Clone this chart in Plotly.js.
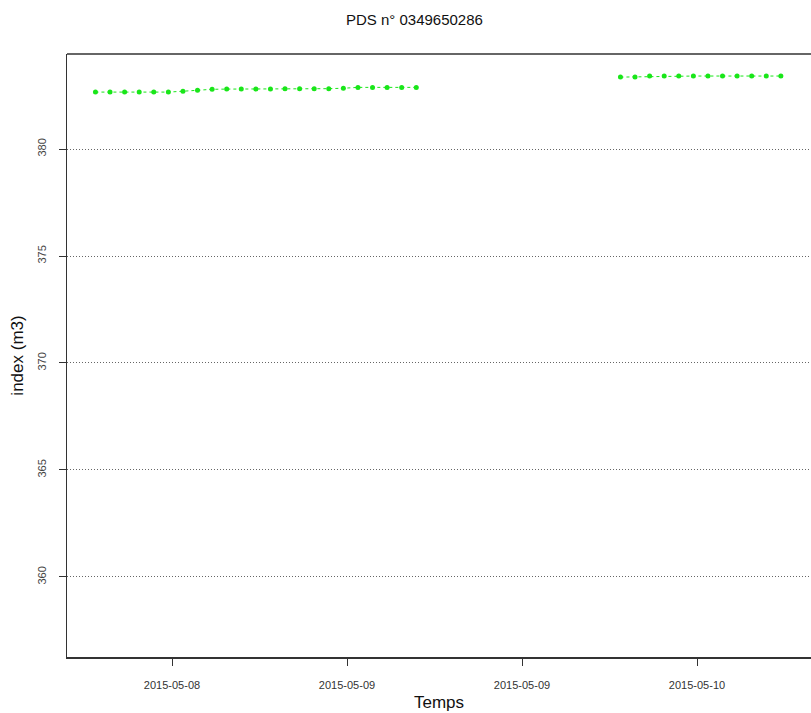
<!DOCTYPE html>
<html>
<head>
<meta charset="utf-8">
<script src="https://cdn.plot.ly/plotly-3.0.1.min.js"></script>
<style>html,body{margin:0;padding:0;background:#fff;}#chart{width:811px;height:713px;}</style>
</head>
<body>
<div id="chart"></div>
<script>
const chartTitle = "PDS n° 0349650286";
const xTitle = "Temps";
const yTitle = "index (m3)";

const times1 = [
  "2015-05-08 06:45","2015-05-08 07:45","2015-05-08 08:45","2015-05-08 09:45",
  "2015-05-08 10:45","2015-05-08 11:45","2015-05-08 12:45","2015-05-08 13:45",
  "2015-05-08 14:45","2015-05-08 15:45","2015-05-08 16:45","2015-05-08 17:45",
  "2015-05-08 18:45","2015-05-08 19:45","2015-05-08 20:45","2015-05-08 21:45",
  "2015-05-08 22:45","2015-05-08 23:45","2015-05-09 00:45","2015-05-09 01:45",
  "2015-05-09 02:45","2015-05-09 03:45","2015-05-09 04:45"
];
const index1 = [382.66,382.66,382.66,382.66,382.66,382.66,382.70,382.75,382.79,382.80,
  382.80,382.80,382.80,382.82,382.82,382.82,382.82,382.84,382.88,382.88,382.88,382.88,382.88];

const times2 = [
  "2015-05-09 18:45","2015-05-09 19:45","2015-05-09 20:45","2015-05-09 21:45",
  "2015-05-09 22:45","2015-05-09 23:45","2015-05-10 00:45","2015-05-10 01:45",
  "2015-05-10 02:45","2015-05-10 03:45","2015-05-10 04:45","2015-05-10 05:45"
];
const index2 = [383.36,383.37,383.41,383.41,383.41,383.41,383.41,383.41,383.41,383.41,383.41,383.41];

const tickVals = ["2015-05-08 12:00","2015-05-09 00:00","2015-05-09 12:00","2015-05-10 00:00"];
const tickText = ["2015-05-08","2015-05-09","2015-05-09","2015-05-10"];
const yTicks = [360,365,370,375,380];

const green = "#19e619";
const mk = {color: green, size: 5};
const ln = {color: green, width: 1, dash: "3px,3px"};

const traces = [
  {x: times1, y: index1, type: "scatter", mode: "lines+markers", marker: mk, line: ln, hoverinfo: "x+y"},
  {x: times2, y: index2, type: "scatter", mode: "lines+markers", marker: mk, line: ln, hoverinfo: "x+y"}
];

const fnt = "Liberation Sans, Arial, sans-serif";
const layout = {
  width: 811, height: 713,
  margin: {l: 67, r: 0, t: 54, b: 56},
  paper_bgcolor: "#fff", plot_bgcolor: "#fff",
  showlegend: false,
  font: {family: fnt, color: "#222"},
  title: {text: chartTitle, font: {family: fnt, size: 15, color: "#111"}, x: 0.511, xanchor: "center", y: 0.972, yanchor: "middle"},
  xaxis: {
    type: "date",
    range: ["2015-05-08 04:48", "2015-05-10 07:49"],
    tickmode: "array", tickvals: tickVals, ticktext: tickText,
    ticks: "outside", ticklen: 7, tickcolor: "#333", tickwidth: 1,
    ticklabelstandoff: 10,
    tickfont: {family: fnt, size: 11, color: "#333"},
    showgrid: false, zeroline: false,
    showline: true, linecolor: "#333", linewidth: 1.5,
    title: {text: xTitle, font: {family: fnt, size: 17, color: "#111"}, standoff: 6}
  },
  yaxis: {
    range: [356.26, 384.44],
    tickmode: "array", tickvals: yTicks, ticktext: yTicks.map(String),
    tickangle: -90,
    ticks: "outside", ticklen: 7, tickcolor: "#333", tickwidth: 1,
    ticklabelstandoff: 8,
    tickfont: {family: fnt, size: 11, color: "#444"},
    showgrid: true, gridcolor: "#666", griddash: "1px,2px", gridwidth: 1,
    zeroline: false,
    showline: true, linecolor: "#333", linewidth: 1.5,
    title: {text: yTitle, font: {family: fnt, size: 17, color: "#111"}, standoff: 8}
  },
  shapes: [
    {type: "line", xref: "paper", yref: "paper", x0: 0, x1: 1, y0: 1, y1: 1, line: {color: "#333", width: 1.5}}
  ]
};

Plotly.newPlot("chart", traces, layout, {displayModeBar: false, staticPlot: true});
</script>
</body>
</html>
